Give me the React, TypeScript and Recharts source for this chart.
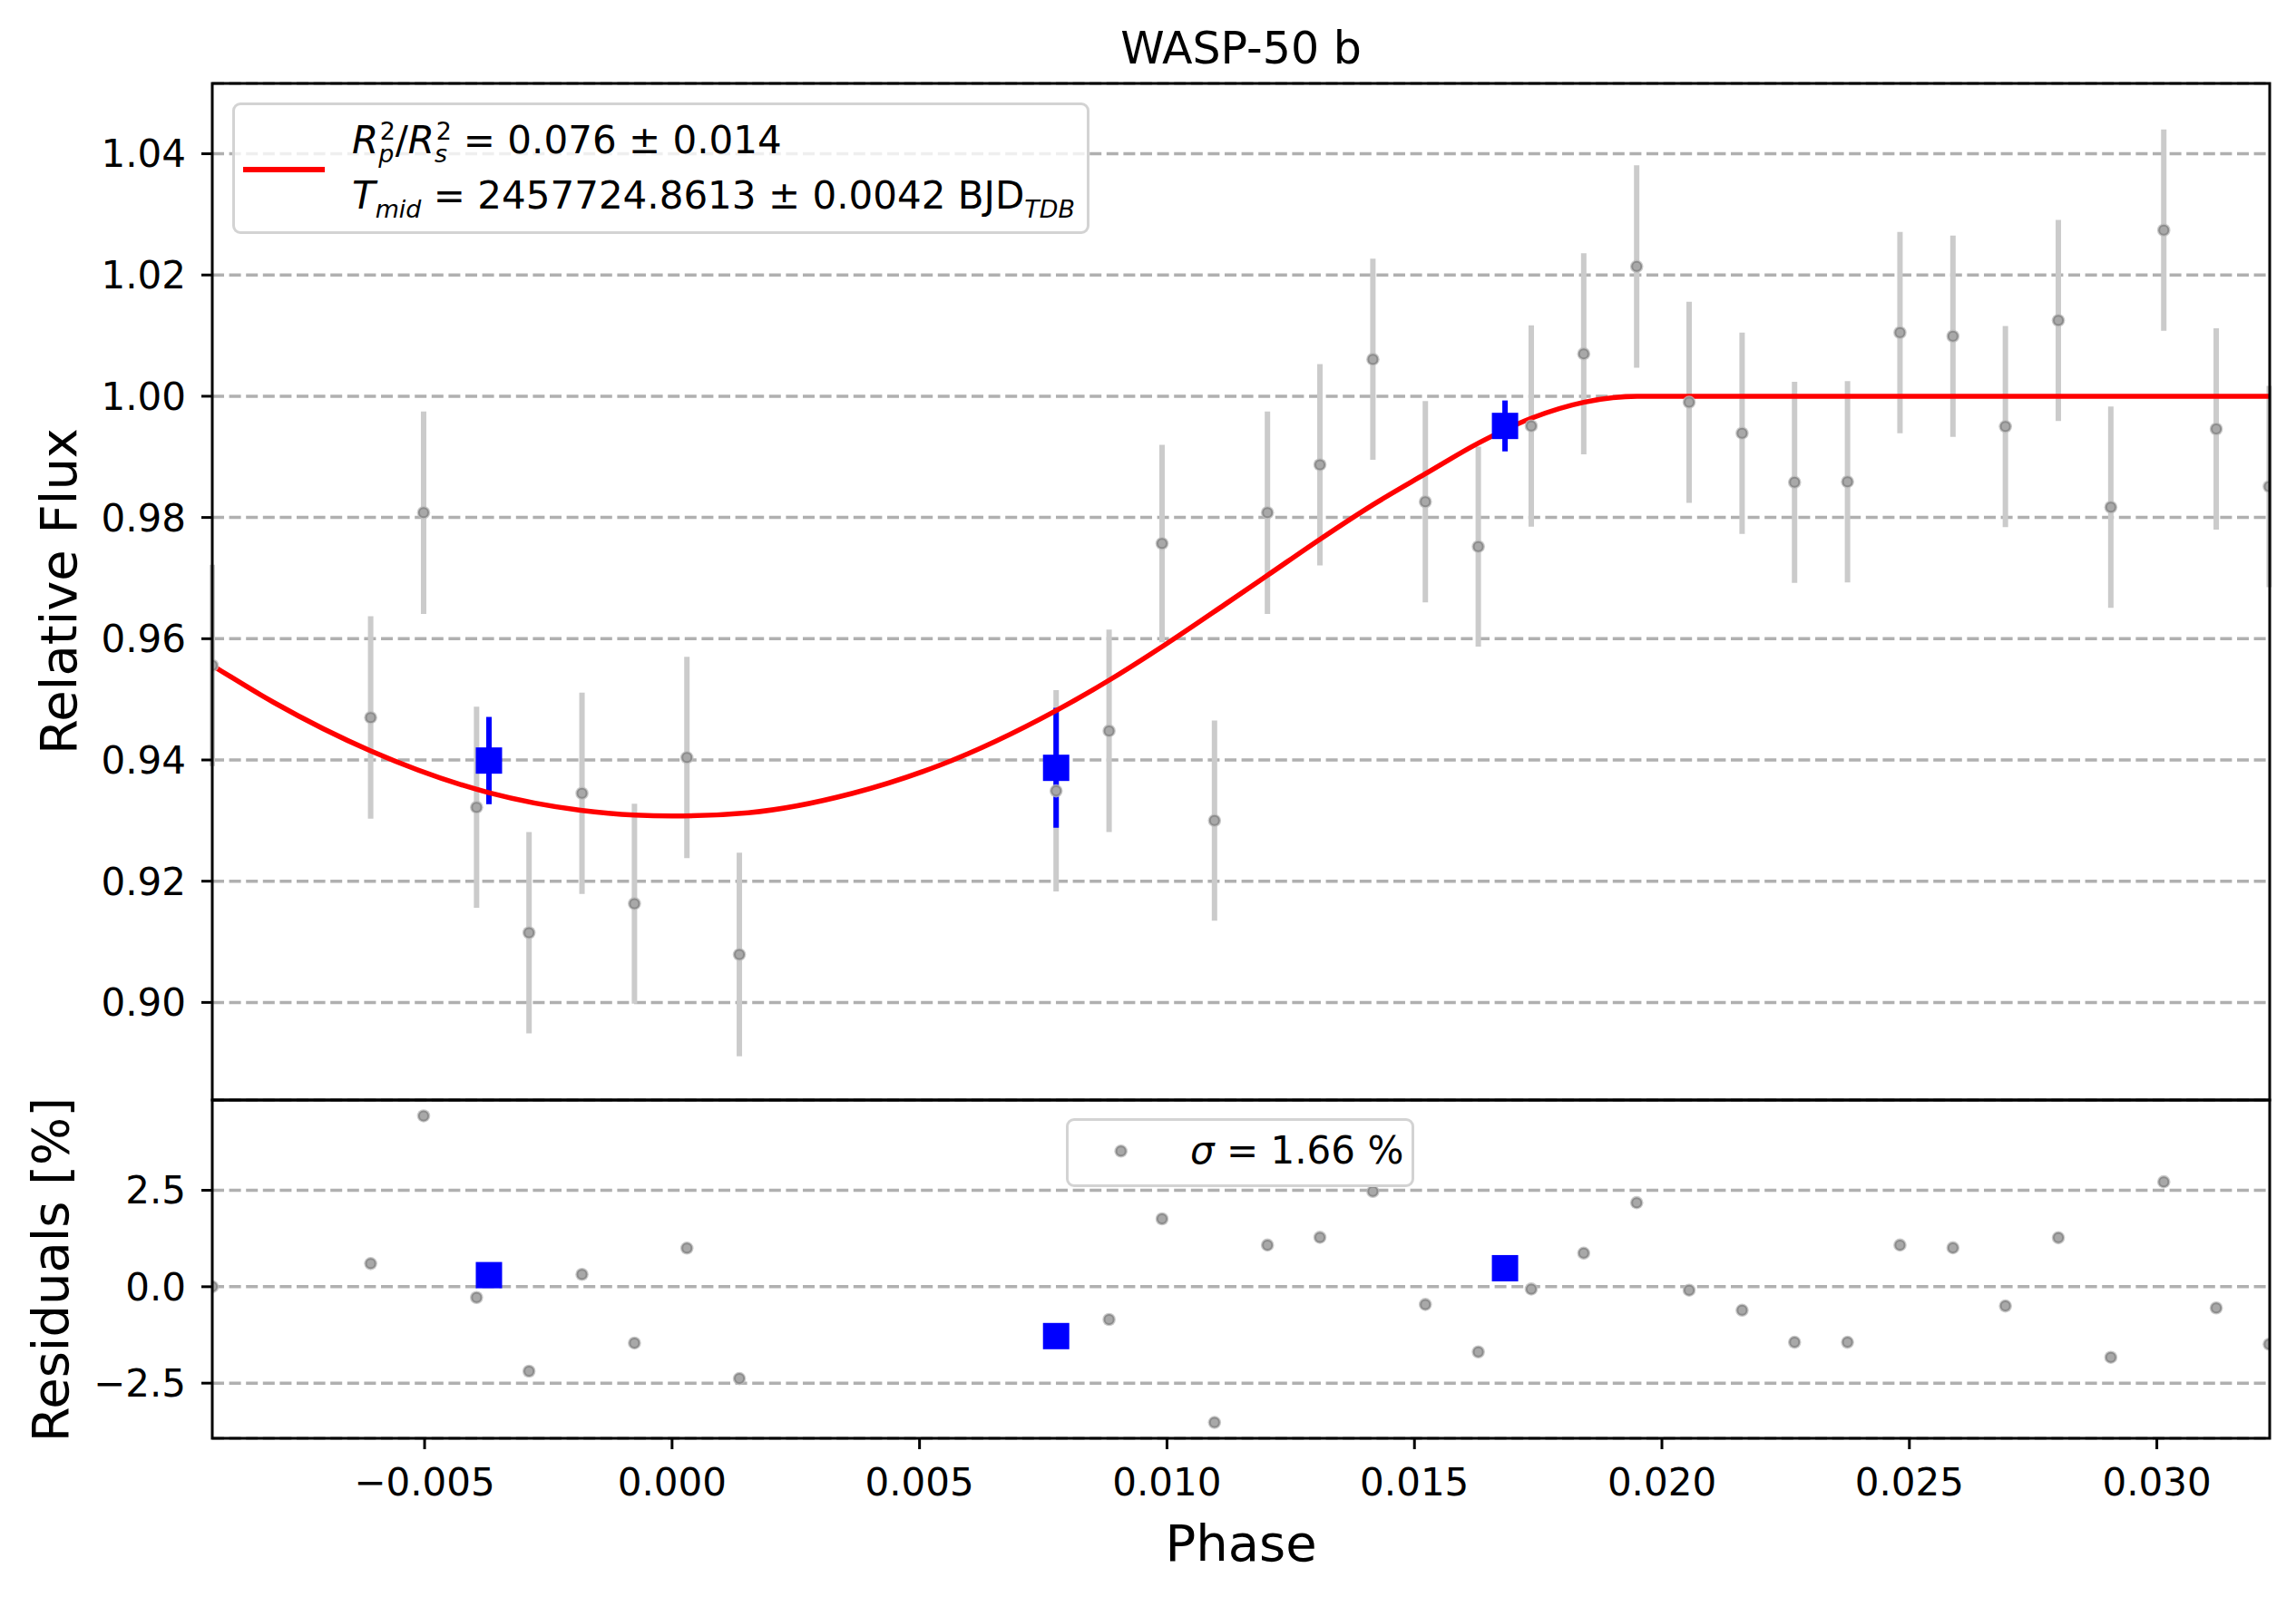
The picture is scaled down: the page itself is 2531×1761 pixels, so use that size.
import React from "react";
import {
  ComposedChart,
  Scatter,
  Line,
  XAxis,
  YAxis,
  CartesianGrid,
  ErrorBar,
} from "recharts";

const W = 2531;
const H = 1761;
const FONT = "'DejaVu Sans', sans-serif";

// unbinned exposures
const phase = [
  -0.00929, -0.00609, -0.00502, -0.00395, -0.00289, -0.00182, -0.00076, 0.0003, 0.00136,
  0.00776, 0.00883, 0.0099, 0.01096, 0.01203, 0.01309, 0.01416, 0.01522, 0.01629, 0.01736,
  0.01842, 0.01949, 0.02055, 0.02162, 0.02268, 0.02375, 0.02481, 0.02588, 0.02694, 0.02801,
  0.02907, 0.03014, 0.0312, 0.03227,
];
const flux = [
  0.9556, 0.947, 0.9808, 0.9322, 0.9115, 0.9345, 0.9163, 0.9404, 0.9079,
  0.9349, 0.9448, 0.9757, 0.93, 0.9808, 0.9887, 1.0061, 0.9826, 0.9752, 0.9951,
  1.007, 1.0214, 0.999, 0.9939, 0.9858, 0.9859, 1.0105, 1.0099, 0.995, 1.0125,
  0.9817, 1.0274, 0.9946, 0.9851,
];
const fluxErr = [
  0.0166, 0.0167, 0.0167, 0.0166, 0.0166, 0.0166, 0.0165, 0.0166, 0.0168,
  0.0166, 0.0167, 0.0163, 0.0165, 0.0167, 0.0166, 0.0166, 0.0166, 0.0165, 0.0166,
  0.0166, 0.0167, 0.0166, 0.0166, 0.0166, 0.0166, 0.0166, 0.0166, 0.0166, 0.0166,
  0.0166, 0.0166, 0.0166, 0.0166,
];
const resid = [
  0.0, 0.6, 4.43, -0.28, -2.19, 0.32, -1.46, 1.0, -2.38,
  -1.3, -0.85, 1.76, -3.52, 1.08, 1.28, 2.47, -0.46, -1.69, -0.06,
  0.87, 2.18, -0.09, -0.61, -1.44, -1.44, 1.08, 1.01, -0.5, 1.27,
  -1.83, 2.72, -0.55, -1.49,
];

// binned points
const binPhase = [-0.0037, 0.00776, 0.01683];
const binFlux = [0.9399, 0.9387, 0.9951];
const binErr = [0.0072, 0.0099, 0.0042];
const binResid = [0.3, -1.28, 0.48];

// transit model
const modelPhase = [
  -0.00929, -0.00805, -0.00609, -0.0037, -0.00185, -0.00076, 0.00001, 0.00154, 0.00365,
  0.0054, 0.00775, 0.00884, 0.00996, 0.01116, 0.01202, 0.01309, 0.01416, 0.01522,
  0.0163, 0.01737, 0.01842, 0.0195, 0.03228,
];
const modelFlux = [
  0.9556, 0.9495, 0.9415, 0.9346, 0.9317, 0.9309, 0.93075, 0.9313, 0.9345,
  0.9391, 0.9481, 0.9532, 0.959, 0.9656, 0.9704, 0.9764, 0.9821, 0.9872,
  0.9923, 0.9964, 0.999, 1.0, 1.0,
];

const fluxTicks = [0.9, 0.92, 0.94, 0.96, 0.98, 1.0, 1.02, 1.04];
const residTicks = [-2.5, 0, 2.5];
const phaseTicks = [-0.005, 0, 0.005, 0.01, 0.015, 0.02, 0.025, 0.03];

const xDomain = [-0.00929, 0.03228];
const fluxDomain = [0.8839, 1.0516];
const residDomain = [-3.93, 4.84];

const points = phase.map((p, i) => ({ phase: p, flux: flux[i], err: fluxErr[i] }));
const residPoints = phase.map((p, i) => ({ phase: p, res: resid[i] }));
const binPoints = binPhase.map((p, i) => ({ phase: p, flux: binFlux[i], err: binErr[i] }));
const binResidPoints = binPhase.map((p, i) => ({ phase: p, res: binResid[i] }));
const model = modelPhase.map((p, i) => ({ phase: p, flux: modelFlux[i] }));

const minus = (s: string) => s.replace("-", "\u2212");
const fmtPhase = (v: number) => minus(v.toFixed(3));
const fmtFlux = (v: number) => v.toFixed(2);
const fmtRes = (v: number) => minus(v.toFixed(1));

const tickStyle = { fontSize: 42, fill: "#000", fontFamily: FONT };
const tickLine = { stroke: "#000", strokeWidth: 3 };

const GrayDot = (props: any) => {
  if (props.cx == null || props.cy == null) return null;
  return (
    <g>
      <circle cx={props.cx} cy={props.cy} r={7.3} fill="#bdbdbd" opacity={0.8} />
      <circle cx={props.cx} cy={props.cy} r={5} fill="#a8a8a8" stroke="#8c8c8c" strokeWidth={2} />
    </g>
  );
};

const BlueSquare = (props: any) => {
  if (props.cx == null || props.cy == null) return null;
  return <rect x={props.cx - 14.5} y={props.cy - 14.5} width={29} height={29} fill="#0000ff" />;
};

const SCRIPT = 0.64;

// stacked superscript / subscript after a symbol (tight line boxes so they don't collide)
const SupSub = ({ sup, sub, F }: { sup: string; sub: string; F: number }) => {
  const f = SCRIPT * F;
  return (
    <span
      style={{
        display: "inline-block",
        position: "relative",
        width: 0.44 * F,
        height: 0.5 * F,
        verticalAlign: "baseline",
      }}
    >
      <span style={{ position: "absolute", left: 0.04 * F, bottom: 0.36 * F, fontSize: f, lineHeight: 0.7 }}>
        {sup}
      </span>
      <span style={{ position: "absolute", left: 0, top: 0.74 * F - 0.696 * f, fontSize: f, lineHeight: 0.7, fontStyle: "italic" }}>
        {sub}
      </span>
    </span>
  );
};

const Sub = ({ children, F }: { children: React.ReactNode; F: number }) => (
  <span style={{ fontSize: SCRIPT * F, position: "relative", top: 0.24 * F, fontStyle: "italic" }}>{children}</span>
);

const LF = 42;

export default function App() {
  return (
    <div
      style={{
        position: "absolute",
        left: 0,
        top: 0,
        width: W,
        height: H,
        background: "#fff",
        fontFamily: FONT,
        color: "#000",
        overflow: "hidden",
      }}
    >
      <div style={{ position: "absolute", left: 0, top: 0 }}>
        <ComposedChart width={W} height={1213} margin={{ top: 92, right: 29, bottom: 0, left: 0 }}>
          <CartesianGrid vertical={false} stroke="#b0b0b0" strokeWidth={3.5} strokeDasharray="13 5.6" />
          <XAxis type="number" dataKey="phase" domain={xDomain} allowDataOverflow ticks={phaseTicks} hide />
          <YAxis
            type="number"
            dataKey="flux"
            domain={fluxDomain}
            allowDataOverflow
            ticks={fluxTicks}
            interval={0}
            width={234}
            tickSize={12}
            tickMargin={17}
            axisLine={false}
            tickLine={tickLine}
            tick={tickStyle}
            tickFormatter={fmtFlux}
          />
          <Scatter data={points} dataKey="flux" shape={GrayDot} isAnimationActive={false}>
            <ErrorBar dataKey="err" direction="y" width={0} stroke="#cbcbcb" strokeWidth={6} />
          </Scatter>
          <Scatter data={binPoints} dataKey="flux" shape={BlueSquare} isAnimationActive={false}>
            <ErrorBar dataKey="err" direction="y" width={0} stroke="#0000ff" strokeWidth={6} />
          </Scatter>
          <Line
            data={model}
            dataKey="flux"
            type="monotone"
            stroke="#ff0000"
            strokeWidth={5.5}
            dot={false}
            activeDot={false}
            isAnimationActive={false}
          />
        </ComposedChart>
      </div>

      <div style={{ position: "absolute", left: 0, top: 1213 }}>
        <ComposedChart width={W} height={548} margin={{ top: 0, right: 29, bottom: 0, left: 0 }}>
          <CartesianGrid vertical={false} stroke="#b0b0b0" strokeWidth={3.5} strokeDasharray="13 5.6" />
          <XAxis
            type="number"
            dataKey="phase"
            domain={xDomain}
            allowDataOverflow
            ticks={phaseTicks}
            interval={0}
            height={175}
            tickSize={12}
            tickMargin={21}
            axisLine={false}
            tickLine={tickLine}
            tick={tickStyle}
            tickFormatter={fmtPhase}
          />
          <YAxis
            type="number"
            dataKey="res"
            domain={residDomain}
            allowDataOverflow
            ticks={residTicks}
            interval={0}
            width={234}
            tickSize={12}
            tickMargin={17}
            axisLine={false}
            tickLine={tickLine}
            tick={tickStyle}
            tickFormatter={fmtRes}
          />
          <Scatter data={residPoints} dataKey="res" shape={GrayDot} isAnimationActive={false} />
          <Scatter data={binResidPoints} dataKey="res" shape={BlueSquare} isAnimationActive={false} />
        </ComposedChart>
      </div>

      {/* axes frames */}
      <svg style={{ position: "absolute", left: 0, top: 0, pointerEvents: "none" }} width={W} height={H}>
        <rect x={234} y={92} width={2268} height={1121} fill="none" stroke="#000" strokeWidth={3} />
        <rect x={234} y={1213} width={2268} height={373} fill="none" stroke="#000" strokeWidth={3} />
      </svg>

      {/* legend, top panel */}
      <div
        style={{
          position: "absolute",
          left: 255.5,
          top: 112.7,
          width: 945,
          height: 145.6,
          boxSizing: "border-box",
          border: "3px solid #d3d3d3",
          borderRadius: 9,
          background: "rgba(255,255,255,0.8)",
        }}
      />
      <div style={{ position: "absolute", left: 268, top: 183.7, width: 90, height: 6, background: "#ff0000" }} />
      <div style={{ position: "absolute", left: 388, top: 170 - 0.846 * LF, fontSize: LF, lineHeight: 1, whiteSpace: "nowrap" }}>
        <i>R</i>
        <SupSub sup="2" sub="p" F={LF} />/<i>R</i>
        <SupSub sup="2" sub="s" F={LF} /> = 0.076 ± 0.014
      </div>
      <div style={{ position: "absolute", left: 388, top: 230.7 - 0.846 * LF, fontSize: LF, lineHeight: 1, whiteSpace: "nowrap" }}>
        <i>T</i>
        <Sub F={LF}>mid</Sub> = 2457724.8613 ± 0.0042 BJD<Sub F={LF}>TDB</Sub>
      </div>

      {/* legend, residual panel */}
      <div
        style={{
          position: "absolute",
          left: 1175,
          top: 1233.3,
          width: 384,
          height: 76,
          boxSizing: "border-box",
          border: "3px solid #d3d3d3",
          borderRadius: 9,
          background: "rgba(255,255,255,0.8)",
        }}
      />
      <svg style={{ position: "absolute", left: 1220, top: 1254 }} width={32} height={32}>
        <circle cx={15.7} cy={15.3} r={7.3} fill="#bdbdbd" opacity={0.8} />
        <circle cx={15.7} cy={15.3} r={5} fill="#a8a8a8" stroke="#8c8c8c" strokeWidth={2} />
      </svg>
      <div style={{ position: "absolute", left: 1312, top: 1283.3 - 0.846 * 42, fontSize: 42, lineHeight: 1, whiteSpace: "nowrap" }}>
        <i>σ</i> = 1.66 %
      </div>

      {/* title and axis labels */}
      <div
        style={{
          position: "absolute",
          left: 1368,
          top: 53,
          transform: "translate(-50%,-50%)",
          fontSize: 49,
          lineHeight: 1,
          whiteSpace: "nowrap",
        }}
      >
        WASP-50 b
      </div>
      <div
        style={{
          position: "absolute",
          left: 65,
          top: 652,
          transform: "translate(-50%,-50%) rotate(-90deg)",
          fontSize: 56,
          lineHeight: 1,
          whiteSpace: "nowrap",
        }}
      >
        Relative Flux
      </div>
      <div
        style={{
          position: "absolute",
          left: 55.6,
          top: 1400,
          transform: "translate(-50%,-50%) rotate(-90deg)",
          fontSize: 56,
          lineHeight: 1,
          whiteSpace: "nowrap",
        }}
      >
        Residuals [%]
      </div>
      <div
        style={{
          position: "absolute",
          left: 1368,
          top: 1701.6,
          transform: "translate(-50%,-50%)",
          fontSize: 56,
          lineHeight: 1,
          whiteSpace: "nowrap",
        }}
      >
        Phase
      </div>
    </div>
  );
}
